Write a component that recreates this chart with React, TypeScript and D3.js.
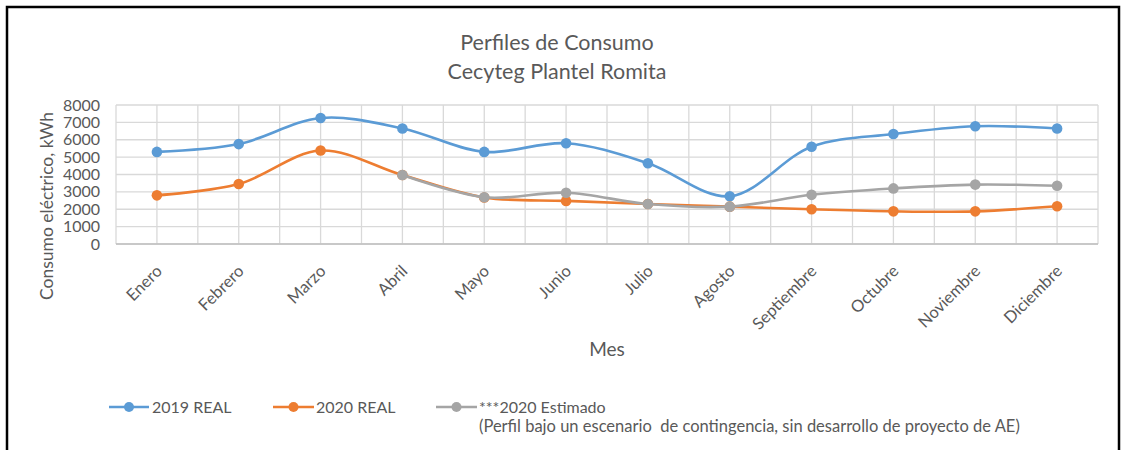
import * as React from "react";
import { scaleBand, scaleLinear, line, curveCatmullRom, range } from "d3";

const months = ["Enero", "Febrero", "Marzo", "Abril", "Mayo", "Junio", "Julio", "Agosto", "Septiembre", "Octubre", "Noviembre", "Diciembre"];
const real2019 = [5300, 5750, 7250, 6650, 5300, 5800, 4650, 2750, 5600, 6330, 6780, 6650];
const real2020 = [2800, 3450, 5380, 3970, 2680, 2480, 2300, 2150, 2000, 1880, 1880, 2170];
const estimado2020: (number | null)[] = [null, null, null, 3970, 2690, 2950, 2300, 2150, 2830, 3200, 3420, 3350];
const yTicks = [0, 1000, 2000, 3000, 4000, 5000, 6000, 7000, 8000];

const series = [
  { name: "2019 REAL", values: real2019 as (number | null)[], color: "#5B9BD5" },
  { name: "2020 REAL", values: real2020 as (number | null)[], color: "#ED7D31" },
  { name: "***2020 Estimado", values: estimado2020, color: "#A5A5A5" },
];

const W = 1123;
const H = 450;
const FONT = "Lato, 'Open Sans', sans-serif";
const TEXT = "#595959";

export default function App() {
  const plot = { left: 116, right: 1098, top: 105, bottom: 244 };

  const xScale = scaleBand<string>().domain(months).range([plot.left, plot.right]).padding(0);
  const bw = xScale.bandwidth();
  const cx = (m: string) => (xScale(m) as number) + bw / 2;

  const yScale = scaleLinear().domain([0, 8000]).range([plot.bottom, plot.top]);

  const lineGen = line<number | null>()
    .defined((d) => d != null)
    .x((_, i) => cx(months[i]))
    .y((d) => yScale(d as number))
    .curve(curveCatmullRom.alpha(0.5));

  // gridlines every half category
  const vGrid = range(months.length * 2 + 1).map((k) => plot.left + (k * bw) / 2);

  const legendItems = [
    { x0: 109, x1: 149, tx: 152 },
    { x0: 273, x1: 314, tx: 316 },
    { x0: 436, x1: 477, tx: 479 },
  ];

  return (
    <svg width={W} height={H} style={{ position: "absolute", left: 0, top: 0, background: "#fff" }} fontFamily={FONT}>
      <rect x={0} y={0} width={W} height={H} fill="#fff" />
      <rect x={7} y={7} width={1112} height={470} fill="none" stroke="#000" strokeWidth={2.5} />

      {/* title */}
      <text x={557} y={50} textAnchor="middle" fontSize={21.5} fill={TEXT}>Perfiles de Consumo</text>
      <text x={557} y={79} textAnchor="middle" fontSize={21.5} fill={TEXT}>Cecyteg Plantel Romita</text>

      {/* grid */}
      {yTicks.map((t) => (
        <line key={"h" + t} x1={plot.left} x2={plot.right} y1={yScale(t)} y2={yScale(t)} stroke="#D9D9D9" strokeWidth={1.3} />
      ))}
      {vGrid.map((x, k) => (
        <line key={"v" + k} x1={x} x2={x} y1={plot.top} y2={plot.bottom} stroke="#D9D9D9" strokeWidth={1.3} />
      ))}
      <line x1={plot.left} x2={plot.right} y1={plot.bottom} y2={plot.bottom} stroke="#BFBFBF" strokeWidth={1.3} />

      {/* y ticks */}
      {yTicks.map((t) => (
        <text key={"yt" + t} x={100} y={yScale(t)} dy="0.35em" textAnchor="end" fontSize={16} fill={TEXT}>{t}</text>
      ))}
      <text transform={`translate(53,${206}) rotate(-90)`} textAnchor="middle" fontSize={17.5} fill={TEXT}>Consumo eléctrico, kWh</text>

      {/* x labels */}
      {months.map((m) => (
        <text key={m} transform={`translate(${cx(m) - 2},${264}) rotate(-45)`} textAnchor="end" dy="0.7em" fontSize={16.5} fill={TEXT}>{m}</text>
      ))}
      <text x={(plot.left + plot.right) / 2} y={356} textAnchor="middle" fontSize={19} fill={TEXT}>Mes</text>

      {/* series */}
      {series.map((s) => (
        <g key={s.name}>
          <path d={lineGen(s.values) || ""} fill="none" stroke={s.color} strokeWidth={2.6} strokeLinecap="round" />
          {s.values.map((v, i) =>
            v == null ? null : <circle key={i} cx={cx(months[i])} cy={yScale(v)} r={5.3} fill={s.color} />
          )}
        </g>
      ))}

      {/* legend */}
      {series.map((s, i) => {
        const it = legendItems[i];
        return (
          <g key={"lg" + s.name}>
            <line x1={it.x0} x2={it.x1} y1={407} y2={407} stroke={s.color} strokeWidth={2.6} />
            <circle cx={(it.x0 + it.x1) / 2} cy={407} r={5} fill={s.color} />
            <text x={it.tx} y={407} dy="0.35em" fontSize={16} fill={TEXT}>{s.name}</text>
          </g>
        );
      })}
      <text x={479} y={426} dy="0.35em" fontSize={16.5} fill={TEXT} style={{ whiteSpace: "pre" }}>(Perfil bajo un escenario  de contingencia, sin desarrollo de proyecto de AE)</text>
    </svg>
  );
}
